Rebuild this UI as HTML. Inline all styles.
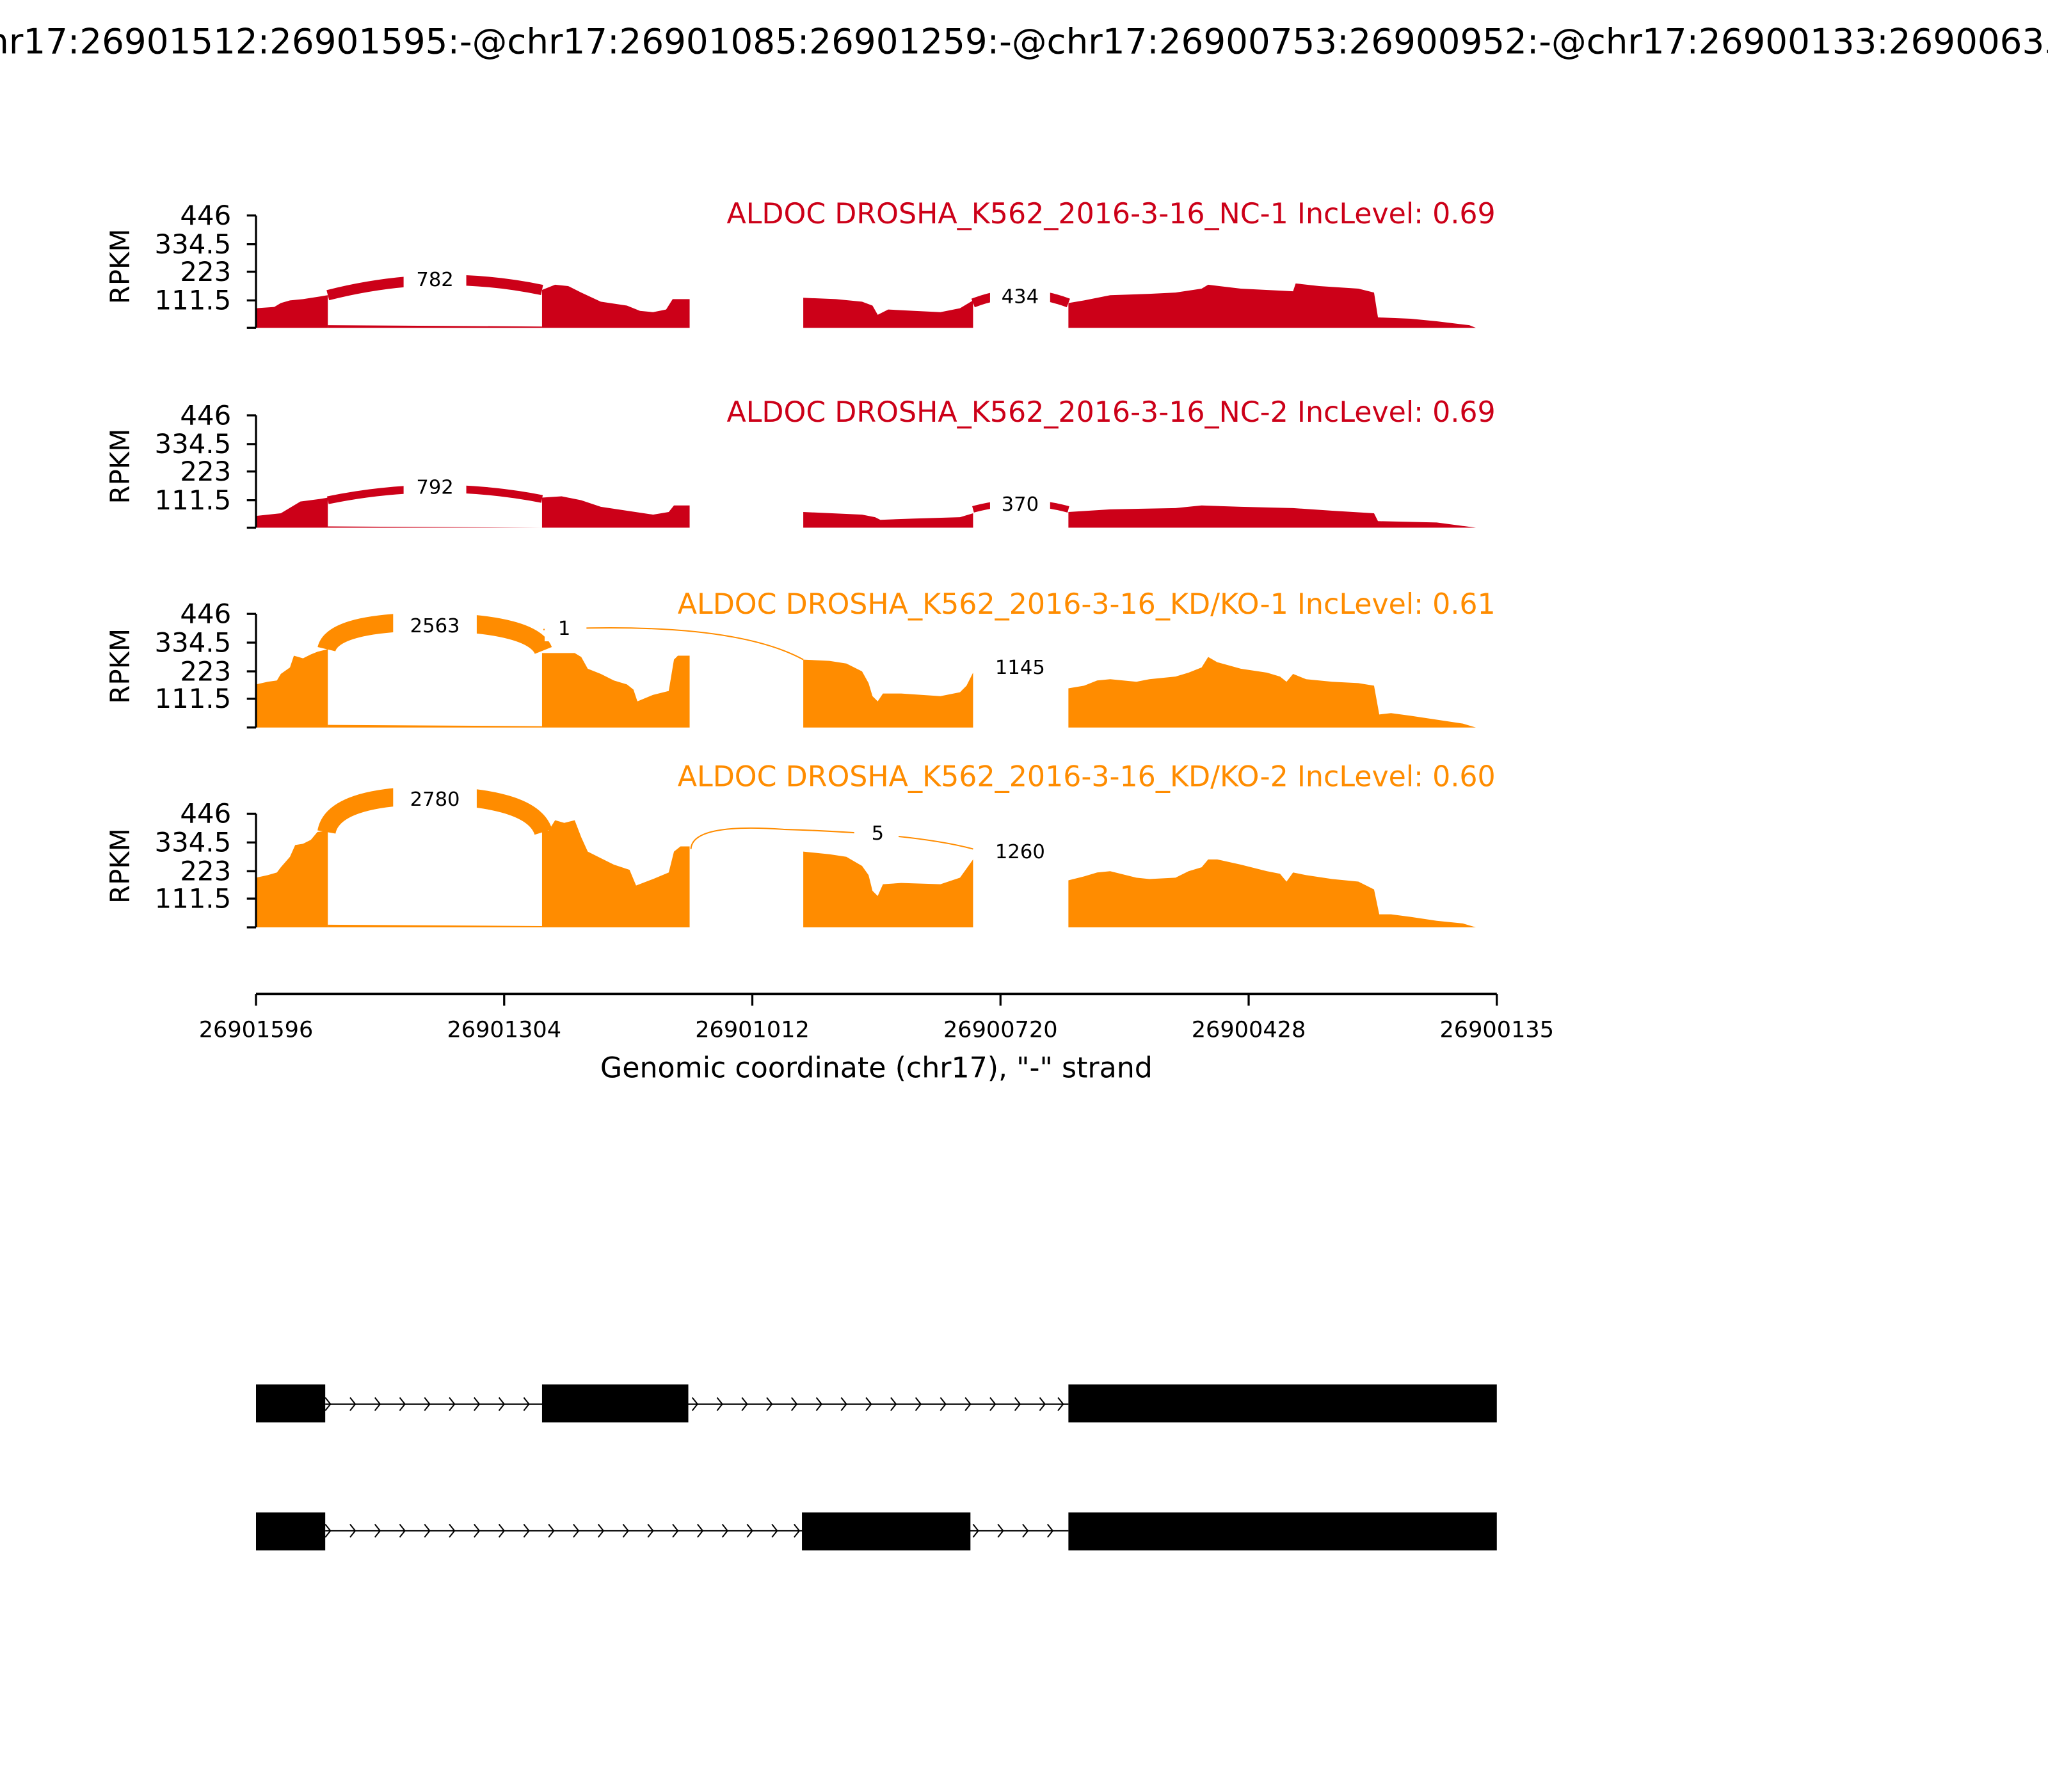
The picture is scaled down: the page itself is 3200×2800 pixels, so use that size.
<!DOCTYPE html>
<html><head><meta charset="utf-8"><style>
html,body{margin:0;padding:0;background:#fff;}
svg{display:block;}
text{font-family:"DejaVu Sans","Liberation Sans",sans-serif;}
</style></head><body>
<svg width="3200" height="2800" viewBox="0 0 1568 1372" xmlns="http://www.w3.org/2000/svg">
<rect width="1568" height="1372" fill="#fff"/>
<text x="788" y="41" font-size="26.8" text-anchor="middle">chr17:26901512:26901595:-@chr17:26901085:26901259:-@chr17:26900753:26900952:-@chr17:26900133:26900635:-</text>

<!-- Panel 1 -->
<g>
<path fill="#cc0018" d="M196,251 L196,236 L210,235 L215,232 L222,230 L232,229 L245,227 L251,226 L251,251 Z"/>
<path fill="#cc0018" d="M251,251 L251,249 L415,250 L415,251 Z"/>
<path fill="#cc0018" d="M415,251 L415,222 L425,218 L435,219 L445,224 L460,231 L480,234 L490,238 L500,239 L510,237 L515,229 L528,229 L528,251 Z"/>
<path fill="#cc0018" d="M615,251 L615,228 L640,229 L660,231 L668,234 L672,241 L680,237 L700,238 L720,239 L735,236 L745,230 L745,251 Z"/>
<path fill="#cc0018" d="M818,251 L818,232 L830,230 L850,226 L880,225 L900,224 L920,221 L925,218 L950,221 L990,223 L992,217 L1010,219 L1040,221 L1052,224 L1055,243 L1080,244 L1100,246 L1125,249 L1130,251 Z"/>
<path d="M251,226 Q333,205 415,222" stroke="#cc0018" stroke-width="8" fill="none"/>
<path d="M745,232 Q781,218 818,232" stroke="#cc0018" stroke-width="7" fill="none"/>
<rect x="309" y="203" width="48" height="21" fill="#fff"/>
<text x="333" y="219" font-size="15" text-anchor="middle">782</text>
<rect x="758" y="216" width="46" height="21" fill="#fff"/>
<text x="781" y="232" font-size="15" text-anchor="middle">434</text>
<line x1="196" y1="165" x2="196" y2="251" stroke="#000" stroke-width="1.6"/>
<g stroke="#000" stroke-width="1.6"><line x1="189" y1="165" x2="196" y2="165"/><line x1="189" y1="187" x2="196" y2="187"/><line x1="189" y1="208" x2="196" y2="208"/><line x1="189" y1="230" x2="196" y2="230"/><line x1="189" y1="251" x2="196" y2="251"/></g>
<g font-size="20.5" text-anchor="end"><text x="177" y="172">446</text><text x="177" y="194">334.5</text><text x="177" y="215">223</text><text x="177" y="237">111.5</text></g>
<text transform="translate(99,204) rotate(-90)" font-size="20.5" text-anchor="middle">RPKM</text>
<text x="1145" y="171" font-size="21.7" text-anchor="end" fill="#cc0018">ALDOC DROSHA_K562_2016-3-16_NC-1 IncLevel: 0.69</text>
</g>

<!-- Panel 2 -->
<g>
<path fill="#cc0018" d="M196,404 L196,395 L215,393 L230,384 L245,382 L251,381 L251,404 Z"/>
<path fill="#cc0018" d="M251,404 L251,403 L415,404 Z"/>
<path fill="#cc0018" d="M415,404 L415,381 L430,380 L445,383 L460,388 L480,391 L500,394 L512,392 L516,387 L528,387 L528,404 Z"/>
<path fill="#cc0018" d="M615,404 L615,392 L660,394 L670,396 L674,398 L700,397 L735,396 L745,393 L745,404 Z"/>
<path fill="#cc0018" d="M818,404 L818,392 L850,390 L900,389 L920,387 L950,388 L990,389 L1020,391 L1052,393 L1055,399 L1100,400 L1130,404 Z"/>
<path d="M251,383 Q333,366 415,382" stroke="#cc0018" stroke-width="6" fill="none"/>
<path d="M745,390 Q781,380 818,390" stroke="#cc0018" stroke-width="5" fill="none"/>
<rect x="309" y="362" width="48" height="21" fill="#fff"/>
<text x="333" y="378" font-size="15" text-anchor="middle">792</text>
<rect x="758" y="376" width="46" height="21" fill="#fff"/>
<text x="781" y="391" font-size="15" text-anchor="middle">370</text>
<line x1="196" y1="318" x2="196" y2="404" stroke="#000" stroke-width="1.6"/>
<g stroke="#000" stroke-width="1.6"><line x1="189" y1="318" x2="196" y2="318"/><line x1="189" y1="340" x2="196" y2="340"/><line x1="189" y1="361" x2="196" y2="361"/><line x1="189" y1="383" x2="196" y2="383"/><line x1="189" y1="404" x2="196" y2="404"/></g>
<g font-size="20.5" text-anchor="end"><text x="177" y="325">446</text><text x="177" y="347">334.5</text><text x="177" y="368">223</text><text x="177" y="390">111.5</text></g>
<text transform="translate(99,357) rotate(-90)" font-size="20.5" text-anchor="middle">RPKM</text>
<text x="1145" y="323" font-size="21.7" text-anchor="end" fill="#cc0018">ALDOC DROSHA_K562_2016-3-16_NC-2 IncLevel: 0.69</text>
</g>

<!-- Panel 3 -->
<g>
<path fill="#ff8c00" d="M196,557 L196,524 L205,522 L212,521 L215,516 L222,511 L225,502 L232,504 L238,501 L243,499 L251,497 L251,557 Z"/>
<path fill="#ff8c00" d="M251,557 L251,555 L415,556 L415,557 Z"/>
<path fill="#ff8c00" d="M415,557 L415,500 L440,500 L445,503 L450,512 L460,516 L470,521 L480,524 L485,528 L488,537 L500,532 L512,529 L516,505 L519,502 L528,502 L528,557 Z"/>
<path fill="#ff8c00" d="M615,557 L615,505 L635,506 L648,508 L660,514 L665,523 L668,533 L672,537 L676,531 L690,531 L720,533 L735,530 L740,525 L745,515 L745,557 Z"/>
<path fill="#ff8c00" d="M818,557 L818,527 L830,525 L840,521 L850,520 L870,522 L880,520 L900,518 L910,515 L920,511 L925,503 L932,507 L950,512 L970,515 L980,518 L985,522 L990,516 L1000,520 L1020,522 L1040,523 L1052,525 L1056,547 L1065,546 L1080,548 L1100,551 L1120,554 L1130,557 Z"/>
<path d="M250,497 Q255,476 333,476 Q408,478 416,498" stroke="#ff8c00" stroke-width="14" fill="none"/>
<path d="M416,482 Q560,475 615,505" stroke="#ff8c00" stroke-width="1" fill="none"/>
<rect x="301" y="468" width="64" height="23" fill="#fff"/>
<text x="333" y="484" font-size="15" text-anchor="middle">2563</text>
<rect x="417" y="470" width="32" height="21" fill="#fff"/>
<text x="432" y="486" font-size="15" text-anchor="middle">1</text>
<text x="781" y="516" font-size="15" text-anchor="middle">1145</text>
<line x1="196" y1="470" x2="196" y2="557" stroke="#000" stroke-width="1.6"/>
<g stroke="#000" stroke-width="1.6"><line x1="189" y1="470" x2="196" y2="470"/><line x1="189" y1="492" x2="196" y2="492"/><line x1="189" y1="514" x2="196" y2="514"/><line x1="189" y1="535" x2="196" y2="535"/><line x1="189" y1="557" x2="196" y2="557"/></g>
<g font-size="20.5" text-anchor="end"><text x="177" y="477">446</text><text x="177" y="499">334.5</text><text x="177" y="521">223</text><text x="177" y="542">111.5</text></g>
<text transform="translate(99,510) rotate(-90)" font-size="20.5" text-anchor="middle">RPKM</text>
<text x="1145" y="470" font-size="21.7" text-anchor="end" fill="#ff8c00">ALDOC DROSHA_K562_2016-3-16_KD/KO-1 IncLevel: 0.61</text>
</g>

<!-- Panel 4 -->
<g>
<path fill="#ff8c00" d="M196,710 L196,672 L205,670 L212,668 L215,664 L222,656 L226,647 L232,646 L238,643 L243,637 L251,636 L251,710 Z"/>
<path fill="#ff8c00" d="M251,710 L251,708 L415,709 L415,710 Z"/>
<path fill="#ff8c00" d="M415,710 L415,636 L420,636 L425,628 L432,630 L440,628 L445,641 L450,652 L460,657 L470,662 L482,666 L487,678 L500,673 L512,668 L516,652 L521,648 L528,648 L528,710 Z"/>
<path fill="#ff8c00" d="M615,710 L615,652 L635,654 L648,656 L660,663 L665,670 L668,682 L672,686 L676,677 L690,676 L720,677 L735,672 L740,665 L745,658 L745,710 Z"/>
<path fill="#ff8c00" d="M818,710 L818,674 L830,671 L840,668 L850,667 L870,672 L880,673 L900,672 L910,667 L920,664 L925,658 L932,658 L950,662 L970,667 L980,669 L985,675 L990,668 L1000,670 L1020,673 L1040,675 L1052,681 L1056,700 L1065,700 L1080,702 L1100,705 L1120,707 L1130,710 Z"/>
<path d="M250,637 Q255,609 333,609 Q408,611 416,637" stroke="#ff8c00" stroke-width="14" fill="none"/>
<path d="M529,650 Q530,630 600,635 Q700,638 745,650" stroke="#ff8c00" stroke-width="1" fill="none"/>
<rect x="301" y="600" width="64" height="23" fill="#fff"/>
<text x="333" y="617" font-size="15" text-anchor="middle">2780</text>
<rect x="654" y="627" width="34" height="21" fill="#fff"/>
<text x="672" y="643" font-size="15" text-anchor="middle">5</text>
<text x="781" y="657" font-size="15" text-anchor="middle">1260</text>
<line x1="196" y1="623" x2="196" y2="710" stroke="#000" stroke-width="1.6"/>
<g stroke="#000" stroke-width="1.6"><line x1="189" y1="623" x2="196" y2="623"/><line x1="189" y1="645" x2="196" y2="645"/><line x1="189" y1="667" x2="196" y2="667"/><line x1="189" y1="688" x2="196" y2="688"/><line x1="189" y1="710" x2="196" y2="710"/></g>
<g font-size="20.5" text-anchor="end"><text x="177" y="630">446</text><text x="177" y="652">334.5</text><text x="177" y="674">223</text><text x="177" y="695">111.5</text></g>
<text transform="translate(99,663) rotate(-90)" font-size="20.5" text-anchor="middle">RPKM</text>
<text x="1145" y="602" font-size="21.7" text-anchor="end" fill="#ff8c00">ALDOC DROSHA_K562_2016-3-16_KD/KO-2 IncLevel: 0.60</text>
</g>

<!-- X axis -->
<line x1="196" y1="761" x2="1146" y2="761" stroke="#000" stroke-width="2"/>
<g stroke="#000" stroke-width="1.6"><line x1="196" y1="761" x2="196" y2="770"/><line x1="386" y1="761" x2="386" y2="770"/><line x1="576" y1="761" x2="576" y2="770"/><line x1="766" y1="761" x2="766" y2="770"/><line x1="956" y1="761" x2="956" y2="770"/><line x1="1146" y1="761" x2="1146" y2="770"/></g>
<g font-size="17.2" text-anchor="middle"><text x="196" y="794">26901596</text><text x="386" y="794">26901304</text><text x="576" y="794">26901012</text><text x="766" y="794">26900720</text><text x="956" y="794">26900428</text><text x="1146" y="794">26900135</text></g>
<text x="671" y="825" font-size="21.7" text-anchor="middle">Genomic coordinate (chr17), "-" strand</text>

<!-- Gene models -->
<line x1="249" y1="1075" x2="818" y2="1075" stroke="#000" stroke-width="1"/>
<g fill="#000"><rect x="196" y="1060" width="53" height="29"/><rect x="415" y="1060" width="112" height="29"/><rect x="818" y="1060" width="328" height="29"/></g>
<g stroke="#000" stroke-width="1" fill="none">
<path d="M249,1070l4,5l-4,5M268,1070l4,5l-4,5M287,1070l4,5l-4,5M306,1070l4,5l-4,5M325,1070l4,5l-4,5M344,1070l4,5l-4,5M363,1070l4,5l-4,5M382,1070l4,5l-4,5M401,1070l4,5l-4,5"/>
<path d="M530,1070l4,5l-4,5M549,1070l4,5l-4,5M568,1070l4,5l-4,5M587,1070l4,5l-4,5M606,1070l4,5l-4,5M625,1070l4,5l-4,5M644,1070l4,5l-4,5M663,1070l4,5l-4,5M682,1070l4,5l-4,5M701,1070l4,5l-4,5M720,1070l4,5l-4,5M739,1070l4,5l-4,5M758,1070l4,5l-4,5M777,1070l4,5l-4,5M796,1070l4,5l-4,5M810,1070l4,5l-4,5"/>
</g>
<line x1="249" y1="1172" x2="818" y2="1172" stroke="#000" stroke-width="1"/>
<g fill="#000"><rect x="196" y="1158" width="53" height="29"/><rect x="614" y="1158" width="129" height="29"/><rect x="818" y="1158" width="328" height="29"/></g>
<g stroke="#000" stroke-width="1" fill="none">
<path d="M249,1167l4,5l-4,5M268,1167l4,5l-4,5M287,1167l4,5l-4,5M306,1167l4,5l-4,5M325,1167l4,5l-4,5M344,1167l4,5l-4,5M363,1167l4,5l-4,5M382,1167l4,5l-4,5M401,1167l4,5l-4,5M420,1167l4,5l-4,5M439,1167l4,5l-4,5M458,1167l4,5l-4,5M477,1167l4,5l-4,5M496,1167l4,5l-4,5M515,1167l4,5l-4,5M534,1167l4,5l-4,5M553,1167l4,5l-4,5M572,1167l4,5l-4,5M591,1167l4,5l-4,5M608,1167l4,5l-4,5"/>
<path d="M745,1167l4,5l-4,5M764,1167l4,5l-4,5M783,1167l4,5l-4,5M802,1167l4,5l-4,5"/>
</g>
</svg>
</body></html>
